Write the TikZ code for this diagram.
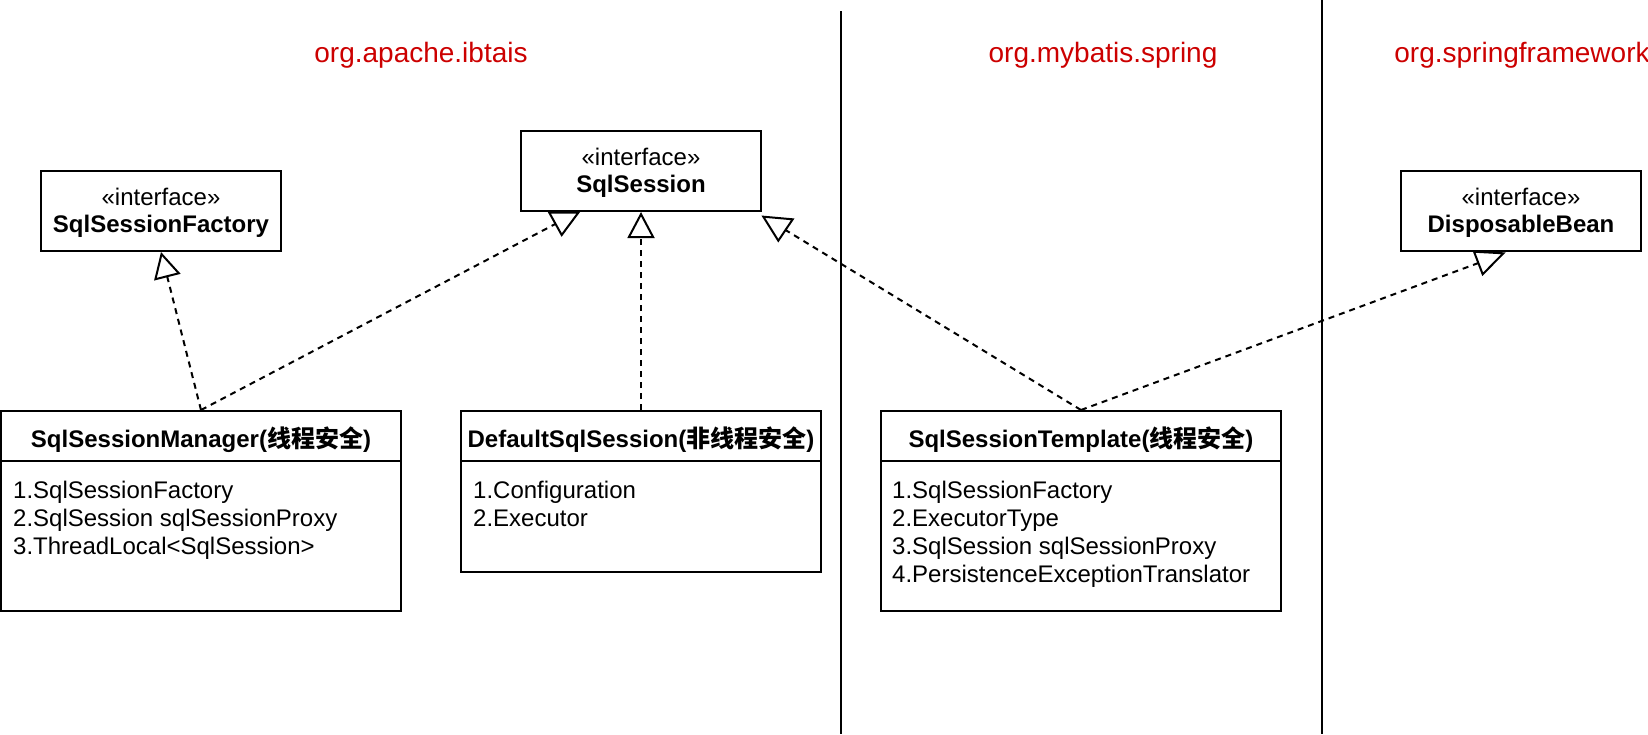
\documentclass[tikz,border=0pt]{standalone}
\usepackage{fontspec}
\setmainfont{Liberation Sans}
\newfontfamily\cjk{Noto Sans CJK SC}
\usetikzlibrary{arrows.meta}
\definecolor{pkgred}{HTML}{CC0000}
\begin{document}
\begin{tikzpicture}[x=1pt,y=-1pt,
  box/.style={draw, line width=2pt, inner sep=0pt, fill=white},
  txt/.style={inner sep=0pt, font=\fontsize{24}{28}\selectfont},
  pkg/.style={inner sep=0pt, text=pkgred, font=\fontsize{28}{33}\selectfont},
  sepline/.style={draw, line width=2pt},
  dep/.style={draw, line width=2pt, dash pattern=on 6pt off 5pt},
  realize/.style={-{Triangle[open, length=26pt, width=27pt]}},
  tri/.style={draw, solid, line width=2pt, fill=white, line join=miter}
]
\useasboundingbox (0,0) rectangle (1648,734);

% package labels
\node[pkg, anchor=base] (p1) at (421,62) {org.apache.ibtais};
\node[pkg, anchor=base] (p2) at (1103,62) {org.mybatis.spring};
\node[pkg, anchor=base] (p3) at (1522,62) {org.springframework};

% separators
\coordinate (s1t) at (841,11);
\coordinate (s1b) at (841,734);
\coordinate (s2t) at (1322,0);
\coordinate (s2b) at (1322,734);
\draw[sepline] (s1t) -- (s1b);
\draw[sepline] (s2t) -- (s2b);

% interfaces
\node[box, minimum width=240pt, minimum height=80pt] (fac) at (161,211) {};
\node[txt, anchor=base] (facA) at (161,205) {«interface»};
\node[txt, anchor=base] (facB) at (161,232.5) {\bfseries SqlSessionFactory};

\node[box, minimum width=240pt, minimum height=80pt] (ss) at (641,171) {};
\node[txt, anchor=base] (ssA) at (641,165) {«interface»};
\node[txt, anchor=base] (ssB) at (641,192.5) {\bfseries SqlSession};

\node[box, minimum width=240pt, minimum height=80pt] (db) at (1521,211) {};
\node[txt, anchor=base] (dbA) at (1521,205) {«interface»};
\node[txt, anchor=base] (dbB) at (1521,232.5) {\bfseries DisposableBean};

% SqlSessionManager
\node[box, minimum width=400pt, minimum height=50pt] (mgrH) at (201,436) {};
\node[box, minimum width=400pt, minimum height=150pt] (mgrB) at (201,536) {};
\node[txt, anchor=base] (mgrT) at (201,447) {\bfseries SqlSessionManager({\cjk 线程安全})};
\node[txt, anchor=base west] (mgr1) at (13,498) {1.SqlSessionFactory};
\node[txt, anchor=base west] (mgr2) at (13,526.3) {2.SqlSession sqlSessionProxy};
\node[txt, anchor=base west] (mgr3) at (13,554.6) {3.ThreadLocal<SqlSession>};

% DefaultSqlSession
\node[box, minimum width=360pt, minimum height=50pt] (defH) at (641,436) {};
\node[box, minimum width=360pt, minimum height=111pt] (defB) at (641,516.5) {};
\node[txt, anchor=base] (defT) at (641,447) {\bfseries DefaultSqlSession({\cjk 非线程安全})};
\node[txt, anchor=base west] (def1) at (473,498) {1.Configuration};
\node[txt, anchor=base west] (def2) at (473,526.3) {2.Executor};

% SqlSessionTemplate
\node[box, minimum width=400pt, minimum height=50pt] (tplH) at (1081,436) {};
\node[box, minimum width=400pt, minimum height=150pt] (tplB) at (1081,536) {};
\node[txt, anchor=base] (tplT) at (1081,447) {\bfseries SqlSessionTemplate({\cjk 线程安全})};
\node[txt, anchor=base west] (tpl1) at (892,498) {1.SqlSessionFactory};
\node[txt, anchor=base west] (tpl2) at (892,526.3) {2.ExecutorType};
\node[txt, anchor=base west] (tpl3) at (892,554.6) {3.SqlSession sqlSessionProxy};
\node[txt, anchor=base west] (tpl4) at (892,582.9) {4.PersistenceExceptionTranslator};

% connectors
\draw[dep, realize] (mgrH.north) -- (fac.south);
\draw[dep, realize] (defH.north) -- (ss.south);

\coordinate (aEnd) at (555.5,223.9);
\draw[dep] (mgrH.north) -- (aEnd);
\draw[tri] (549.3,212.7) -- (578.3,212.7) -- (561.7,235) -- cycle;

\coordinate (cEnd) at (785.5,230);
\draw[dep] (tplH.north) -- (cEnd);
\draw[tri] (763.3,216.7) -- (792.7,219.3) -- (778.3,240.7) -- cycle;

\coordinate (dEnd) at (1478.4,263);
\draw[dep] (tplH.north) -- (dEnd);
\draw[tri] (1474,251.7) -- (1503.3,253.3) -- (1482.7,274.3) -- cycle;
\end{tikzpicture}
\end{document}
